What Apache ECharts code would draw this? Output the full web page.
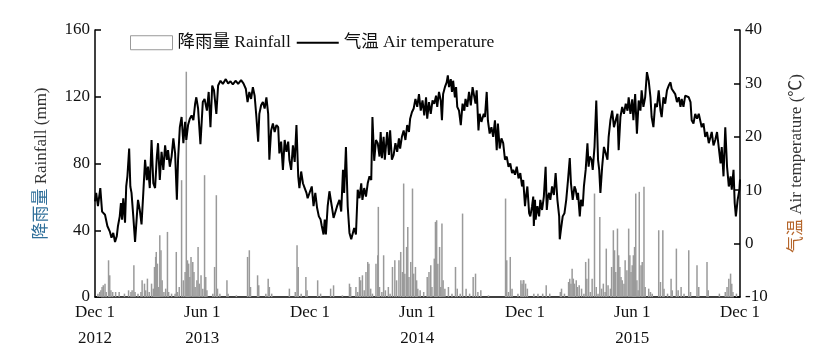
<!DOCTYPE html>
<html>
<head>
<meta charset="utf-8">
<script src="https://cdn.jsdelivr.net/npm/echarts@6/dist/echarts.min.js"></script>
<style>
html,body{margin:0;padding:0;background:#fff;}
#chart{width:826px;height:362px;}
</style>
</head>
<body>
<div id="chart"></div>
<script>
// Days counted from 2012-12-01
const tickDays = [0, 182, 365, 547, 730, 912, 1095];
const tickLabels = ['Dec 1\n2012', 'Jun 1\n2013', 'Dec 1', 'Jun 1\n2014', 'Dec 1', 'Jun 1\n2015', 'Dec 1'];

const tempDay = [0,2,5,9,12,17,21,25,28,31,34,37,39,42,44,46,48,51,53,55,58,60,62,65,68,71,73,76,79,82,85,88,90,93,96,99,102,105,107,110,113,116,119,122,124,127,130,133,136,139,141,144,147,150,153,155,158,161,164,167,170,172,175,179,183,186,190,193,196,199,202,206,209,213,217,222,226,230,234,239,243,248,252,256,259,262,265,268,271,274,277,279,282,285,288,291,294,296,299,302,305,308,311,313,316,319,322,325,328,330,333,336,339,342,345,347,350,353,356,359,361,364,368,371,374,377,380,383,385,388,390,392,395,398,402,405,407,411,415,418,421,423,426,429,432,435,438,440,443,446,449,452,454,457,460,463,466,469,471,474,477,480,483,485,487,490,492,496,499,501,504,507,510,513,516,518,521,524,527,530,533,535,538,541,544,547,550,553,556,559,562,564,567,570,573,576,579,581,584,587,589,591,594,597,599,601,604,606,608,611,613,615,618,621,624,627,629,632,635,638,641,644,646,648,651,653,656,660,662,665,667,670,673,676,679,682,684,687,690,693,696,699,702,705,708,710,713,716,719,722,725,727,730,731,734,737,739,742,744,745,747,748,751,754,756,759,762,765,767,769,771,773,776,779,782,785,788,789,791,794,797,800,803,806,808,811,814,816,819,820,823,825,828,830,833,836,838,840,843,845,848,851,854,856,858,861,864,867,870,872,875,878,881,884,887,889,892,895,898,901,904,906,909,912,914,917,920,923,926,928,931,934,937,940,943,945,948,951,954,957,960,962,965,968,971,974,977,979,982,985,988,991,994,996,999,1002,1005,1008,1011,1013,1016,1019,1022,1025,1028,1030,1033,1036,1039,1042,1045,1047,1050,1053,1056,1059,1062,1064,1067,1070,1073,1076,1079,1081,1084,1086,1088,1091,1094,1095];
const tempC = [7.9,9.5,7.0,10.4,6.0,5.4,3.3,2.3,1.1,2.0,0.3,1.4,3.3,5.1,7.6,4.5,8.5,3.9,10.7,12.6,17.8,10.7,9.5,5.1,0.3,5.1,8.2,6.3,3.6,9.5,15.7,11.9,14.4,10.4,19.4,11.3,10.4,16.3,18.8,11.9,17.2,13.8,18.4,15.7,17.5,14.4,16.3,19.7,16.9,8.2,15.7,21.8,23.7,18.8,22.8,19.4,22.2,23.4,24.0,23.1,26.2,27.4,25.3,18.6,26.5,27.1,24.9,28.4,21.8,29.6,28.7,24.3,29.6,30.5,29.9,30.8,30.0,30.4,29.8,30.5,29.9,30.6,30.0,29.0,26.5,28.4,27.1,29.3,27.7,23.7,19.1,24.3,25.9,26.5,25.3,27.4,24.3,15.7,21.2,22.5,20.9,22.2,21.8,16.9,19.1,13.8,19.4,17.2,19.1,15.7,13.8,18.4,15.3,22.2,12.6,10.4,13.5,11.3,10.4,9.5,8.5,8.8,10.7,7.0,9.5,6.7,5.1,4.5,3.3,1.7,4.5,1.7,7.0,9.8,7.0,4.8,5.1,7.0,8.2,6.0,13.8,9.5,18.1,7.0,2.0,0.8,0.5,2.9,1.7,10.1,8.5,11.3,8.2,10.4,8.8,11.3,12.6,11.9,23.7,15.5,19.4,18.8,16.3,20.9,16.0,20.0,15.7,20.9,16.6,21.2,15.7,16.6,18.8,17.2,19.7,17.8,20.0,21.2,19.4,22.2,20.9,23.4,24.6,25.3,27.1,25.6,28.0,24.9,26.8,24.0,27.4,23.4,26.5,24.3,26.8,26.2,27.7,25.6,28.4,26.8,23.1,28.0,29.3,30.2,31.5,29.3,30.8,28.4,30.5,27.4,29.3,25.6,24.9,22.2,26.2,24.9,27.1,25.6,28.4,25.9,29.3,29.6,26.2,28.7,21.2,24.3,22.8,24.3,23.7,28.4,23.1,20.6,21.8,20.0,23.1,17.5,22.5,17.8,19.7,18.8,15.7,16.3,14.4,15.0,13.2,13.8,12.9,14.4,12.2,13.2,10.7,11.9,7.0,8.2,10.7,5.7,5.1,7.0,8.8,3.3,8.2,4.5,7.0,5.1,8.2,6.3,8.8,14.4,6.3,8.8,9.5,8.2,10.7,9.1,13.2,8.2,5.1,0.8,2.6,5.1,5.7,8.2,11.9,16.0,11.3,8.2,10.7,10.1,8.2,9.5,5.1,8.2,7.0,10.7,13.8,18.8,14.4,16.3,15.7,13.8,18.1,26.8,15.7,13.8,9.5,14.4,18.1,16.9,15.7,20.0,23.1,24.9,21.8,23.1,24.3,17.5,23.7,25.6,24.3,26.2,24.9,27.4,24.3,27.0,23.1,28.0,20.6,26.8,24.9,28.7,25.6,27.4,32.1,30.5,27.4,23.7,21.8,26.2,25.6,28.7,24.9,23.7,27.4,26.2,28.7,29.6,30.2,29.0,28.7,28.0,26.5,27.4,25.6,27.1,25.6,27.7,28.0,27.4,26.5,23.1,22.5,24.3,23.4,24.3,24.6,21.8,22.5,20.0,20.9,18.8,20.0,20.9,18.4,19.4,20.9,20.6,15.0,18.1,12.6,21.8,14.4,10.7,12.6,10.1,13.8,7.6,5.1,8.2,10.1,12.0];

const rainDay = [5,8,10,12,14,17,19,23,25,27,30,35,41,50,57,61,63,66,68,73,78,80,84,86,89,92,96,99,101,103,104,106,108,110,112,114,117,120,123,125,130,136,138,140,143,147,150,153,155,157,159,161,163,166,168,170,173,175,177,180,183,186,188,190,200,203,206,208,212,224,226,240,259,262,264,276,278,290,294,296,300,330,340,343,345,350,358,360,378,383,400,405,420,432,434,443,446,449,451,454,457,460,463,465,468,471,477,480,481,483,487,490,493,498,501,505,509,512,516,519,522,524,526,529,531,533,536,539,541,544,546,548,552,558,564,567,570,572,576,578,580,582,585,587,589,591,594,600,606,612,615,620,624,630,636,642,646,650,655,668,697,699,702,705,708,718,723,725,727,728,731,734,745,752,760,766,772,790,792,797,804,806,808,810,812,814,817,819,822,826,830,833,835,838,841,844,848,851,854,857,860,863,866,868,871,875,877,880,882,884,887,889,891,893,895,898,900,903,906,908,910,912,914,916,918,920,922,924,927,929,932,934,940,943,946,957,960,964,966,972,978,980,987,990,995,1000,1008,1011,1022,1025,1039,1041,1060,1070,1073,1076,1079,1081,1083,1089];
const rainMm = [2,3,4,6,7,8,3,22,13,4,3,3,3,2,4,3,4,19,3,2,3,10,8,4,11,3,8,5,18,24,27,20,6,37,28,10,3,5,39,3,2,2,27,3,6,70,10,15,135,22,20,12,24,21,15,6,10,30,8,13,5,73,12,4,2,18,61,5,2,10,2,1,24,28,6,13,7,2,11,6,2,5,3,31,18,2,12,4,10,2,5,7,1,8,6,6,3,12,10,13,4,15,21,20,5,2,20,25,54,6,3,25,4,6,2,18,22,10,22,27,15,68,14,30,42,12,21,65,14,18,10,5,4,3,12,15,19,6,23,45,46,20,30,6,44,10,5,6,2,18,5,2,50,5,2,12,14,3,4,1,59,22,3,24,5,2,10,8,10,10,8,5,2,2,2,7,2,3,5,2,9,11,8,17,11,8,10,6,7,5,2,21,11,23,3,11,62,6,2,48,5,8,3,29,7,5,18,40,28,15,41,25,18,12,10,8,22,16,41,25,15,19,25,30,62,10,4,63,19,21,66,6,5,3,2,40,9,40,5,2,11,4,29,4,6,2,28,3,19,6,21,4,2,3,6,11,14,8,3,2];

const leftTicks = [0, 40, 80, 120, 160];
const rightTicks = [-10, 0, 10, 20, 30, 40];

const FONT = "'Liberation Serif', 'Times New Roman', 'Noto Sans CJK SC', serif";
const FS = 17;

const rainData = rainDay.map((d, i) => [d, rainMm[i]]);
const tempData = tempDay.map((d, i) => [d, tempC[i]]);

const chart = echarts.init(document.getElementById('chart'), null, {renderer: 'canvas'});
chart.setOption({
  animation: false,
  backgroundColor: '#fff',
  textStyle: {fontFamily: FONT},
  grid: {left: 95, right: 86, top: 30, bottom: 65, containLabel: false},
  legend: {
    left: 125, top: 29,
    itemWidth: 42, itemHeight: 14, itemGap: 5,
    textStyle: {fontFamily: FONT, fontSize: 17.5, color: '#111'},
    data: [
      {name: '降雨量 Rainfall', icon: 'rect', itemStyle: {color: '#fff', borderColor: '#9a9a9a', borderWidth: 1}},
      {name: '气温 Air temperature', itemStyle: {opacity: 0}, lineStyle: {color: '#000', width: 2}}
    ]
  },
  xAxis: {
    type: 'value', min: 0, max: 1095,
    splitLine: {show: false},
    axisLine: {show: true, lineStyle: {color: '#000', width: 1.5}},
    axisTick: {show: false},
    axisLabel: {
      customValues: tickDays,
      margin: 3,
      fontFamily: FONT, fontSize: FS, color: '#111', lineHeight: 26,
      formatter: function (v) {
        const i = tickDays.indexOf(v);
        return i >= 0 ? tickLabels[i] : '';
      }
    }
  },
  yAxis: [
    {
      type: 'value', min: leftTicks[0], max: leftTicks[leftTicks.length - 1], interval: 40,
      position: 'left',
      name: '{a|降雨量} Rainfall (mm)',
      nameLocation: 'middle', nameRotate: 90, nameGap: 45,
      nameTextStyle: {fontFamily: FONT, fontSize: FS, color: '#333',
        rich: {a: {fontFamily: FONT, fontSize: FS, color: '#2f6f9a'}}},
      splitLine: {show: false},
      axisLine: {show: true, lineStyle: {color: '#000', width: 1.5}},
      axisTick: {show: true, inside: true, length: 6, lineStyle: {color: '#000', width: 1.5}},
      axisLabel: {fontFamily: FONT, fontSize: FS, color: '#111', margin: 5}
    },
    {
      type: 'value', min: rightTicks[0], max: rightTicks[rightTicks.length - 1], interval: 10,
      position: 'right',
      name: '{a|气温} Air temperature (℃)',
      nameLocation: 'middle', nameRotate: 90, nameGap: 48,
      nameTextStyle: {fontFamily: FONT, fontSize: FS, color: '#333',
        rich: {a: {fontFamily: FONT, fontSize: FS, color: '#b5652a'}}},
      splitLine: {show: false},
      axisLine: {show: true, lineStyle: {color: '#000', width: 1.5}},
      axisTick: {show: true, inside: true, length: 6, lineStyle: {color: '#000', width: 1.5}},
      axisLabel: {fontFamily: FONT, fontSize: FS, color: '#111', margin: 5}
    }
  ],
  series: [
    {
      name: '降雨量 Rainfall', type: 'bar', yAxisIndex: 0,
      data: rainData, barWidth: 1.5,
      itemStyle: {color: '#9a9a9a'}, z: 1
    },
    {
      name: '气温 Air temperature', type: 'line', yAxisIndex: 1,
      data: tempData, symbol: 'none', showSymbol: false,
      lineStyle: {color: '#000', width: 2}, itemStyle: {color: '#000'}, z: 3
    }
  ]
});
</script>
</body>
</html>
